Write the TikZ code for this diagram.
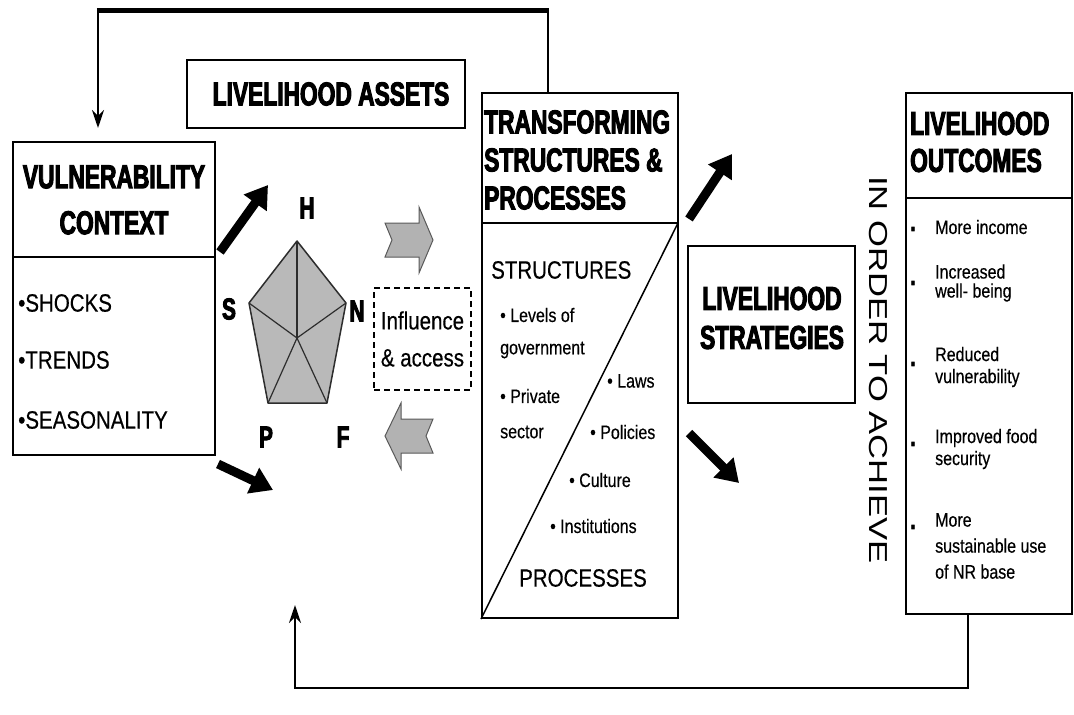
\documentclass[tikz,border=0pt]{standalone}
\usepackage{fontspec}
\setmainfont{Liberation Sans}
\newfontfamily\heavyfont[FakeStretch=0.69,FakeBold=3]{Liberation Sans Bold}
\newfontfamily\narrowfont[FakeStretch=0.82,FakeBold=0.4]{Liberation Sans}
\newfontfamily\widefont[FakeStretch=1.33]{Liberation Sans}
\usetikzlibrary{arrows.meta,positioning}

\tikzset{
  box/.style={draw, line width=2pt, inner sep=0pt},
  heading/.style={font=\heavyfont\fontsize{33}{40}\selectfont, inner sep=0pt, align=center},
  plain/.style={font=\narrowfont\fontsize{25}{30}\selectfont, inner sep=0pt, anchor=west, align=left},
  small/.style={font=\narrowfont\fontsize{19.5}{22}\selectfont, inner sep=0pt, anchor=west, align=left},
  corner/.style={font=\heavyfont\fontsize{30}{30}\selectfont, inner sep=0pt},
  dot/.style={font=\heavyfont\fontsize{26}{26}\selectfont, inner sep=0pt},
  fatarrow/.style={-{Triangle[length=22pt,width=27pt]}, line width=9pt},
  feedback/.style={line width=2.2pt, line join=miter},
  block/.style={fill=gray!60, draw=gray!70!black, line width=1pt}
}

\begin{document}
\begin{tikzpicture}[x=1pt,y=-1pt,>=Stealth]
\useasboundingbox (0,0) rectangle (1074,715);

% boxes
\node[box, minimum width=278pt, minimum height=68pt] (assets) at (326,94) {};
\node[heading] (assetstitle) at (331,94) {LIVELIHOOD ASSETS};
\node[box, minimum width=202pt, minimum height=313pt] (vc) at (114,298.5) {};
\node[box, minimum width=196pt, minimum height=525pt] (tsp) at (580,355.5) {};
\node[box, minimum width=167pt, minimum height=157pt] (strat) at (771.5,324.5) {};
\node[box, minimum width=166pt, minimum height=521pt] (out) at (989,353.5) {};

% dividers
\draw[line width=2pt] (13,257) -- (215,257);
\draw[line width=2pt] (482,223) -- (678,223);
\draw[line width=1.5pt] (678,223) -- (tsp.south west);
\draw[line width=2pt] (906,198) -- (1072,198);

% titles
\node[heading, font=\heavyfont\fontsize{33}{46}\selectfont] (vctitle) at (114,200) {VULNERABILITY\\CONTEXT};
\node[heading, anchor=west, align=left, font=\heavyfont\fontsize{33}{38}\selectfont] (tsptitle) at (484,160) {TRANSFORMING\\STRUCTURES \&\\PROCESSES};
\node[heading, font=\heavyfont\fontsize{33}{39}\selectfont] (strattitle) at (772,318) {LIVELIHOOD\\STRATEGIES};
\node[heading, anchor=west, align=left, font=\heavyfont\fontsize{33}{37}\selectfont] (outtitle) at (910,142) {LIVELIHOOD\\OUTCOMES};

% vulnerability context
\node[plain] (shocks) at (18,303) {•SHOCKS};
\node[plain] (trends) at (18,360) {•TRENDS};
\node[plain] (season) at (18,420) {•SEASONALITY};

% transforming structures
\node[plain] (structs) at (491,270) {STRUCTURES};
\node[plain] (procs) at (519,578) {PROCESSES};
\node[small] (levels) at (500,315) {• Levels of};
\node[small] (govt) at (500,350) {government};
\node[small] (private) at (500,396) {• Private};
\node[small] (sector) at (500,432) {sector};
\node[small] (laws) at (607,381) {• Laws};
\node[small] (policies) at (590,432) {• Policies};
\node[small] (culture) at (569,480) {• Culture};
\node[small] (instit) at (550,526) {• Institutions};

% outcomes
\node[dot] (d1) at (913,229) {.};
\node[dot] (d2) at (913,283) {.};
\node[dot] (d3) at (913,364) {.};
\node[dot] (d4) at (913,444) {.};
\node[dot] (d5) at (913,527) {.};
\node[small] (income) at (935,227) {More income};
\node[small] (wellb) at (935,283) {Increased\\[-3pt]well- being};
\node[small] (reduced) at (935,367) {Reduced\\vulnerability};
\node[small] (food) at (935,449) {Improved food\\security};
\node[small, font=\narrowfont\fontsize{19.5}{26}\selectfont] (sustain) at (935,546) {More\\sustainable use\\of NR base};

\node[rotate=-90, font=\widefont\fontsize{26}{26}\selectfont, inner sep=0pt] (aim) at (878,370) {IN ORDER TO ACHIEVE};

% asset pentagon
\coordinate (pH) at (297,241);
\coordinate (pN) at (346,303);
\coordinate (pF) at (327,403);
\coordinate (pP) at (268,403);
\coordinate (pS) at (249,303);
\coordinate (pC) at (297,338);
\draw[fill=gray!55, draw=gray!35!black, line width=1.5pt, line join=round] (pH) -- (pN) -- (pF) -- (pP) -- (pS) -- cycle;
\foreach \v in {pH,pN,pF,pP,pS}
  \draw[gray!35!black, line width=1.2pt] (pC) -- (\v);
\node[corner] (capH) at (307,208) {H};
\node[corner] (capS) at (229,309) {S};
\node[corner] (capN) at (357,311) {N};
\node[corner] (capP) at (266,437) {P};
\node[corner] (capF) at (343,437) {F};

\node[draw, dashed, dash pattern=on 6pt off 4pt, line width=1.5pt, minimum width=97pt, minimum height=102pt,
      align=left, inner sep=0pt, font=\narrowfont\fontsize{25}{37}\selectfont] (infl) at (422.5,339) {Influence\\\& access};

% grey block arrows
\draw[block] (385,223) -- (392,240) -- (385,257) -- (419,257) -- (419,273) -- (433,240)
  -- (419,207) -- (419,223) -- cycle;
\draw[block] (385,436) -- (401,403) -- (401,419) -- (433,419) -- (426,436) -- (433,453)
  -- (401,453) -- (401,469) -- cycle;

% black arrows
\coordinate (a1s) at (220,252);
\coordinate (a1e) at (268,185);
\coordinate (a2s) at (218,464);
\coordinate (a2e) at (273,490);
\coordinate (a3s) at (689,219);
\coordinate (a3e) at (732,154);
\coordinate (a4s) at (689,433);
\coordinate (a4e) at (739,483);
\draw[fatarrow] (a1s) -- (a1e);
\draw[fatarrow] (a2s) -- (a2e);
\draw[fatarrow] (a3s) -- (a3e);
\draw[fatarrow] (a4s) -- (a4e);

% feedback loops
\coordinate (topR) at (548,10);
\coordinate (topL) at (98,10);
\coordinate (vcin) at (98,128);
\draw[feedback, -{Stealth[length=18pt,width=12pt]}] (tsp.north -| topR) -- (topR) -- (topL) -- (vcin);
\draw[line width=5pt] ([xshift=-1.1pt]topL) -- ([xshift=1.1pt]topR);
\coordinate (botR) at (968,688);
\coordinate (botL) at (295,688);
\coordinate (lain) at (295,605);
\draw[feedback, -{Stealth[length=18pt,width=12pt]}] (out.south -| botR) -- (botR) -- (botL) -- (lain);
\end{tikzpicture}
\end{document}
